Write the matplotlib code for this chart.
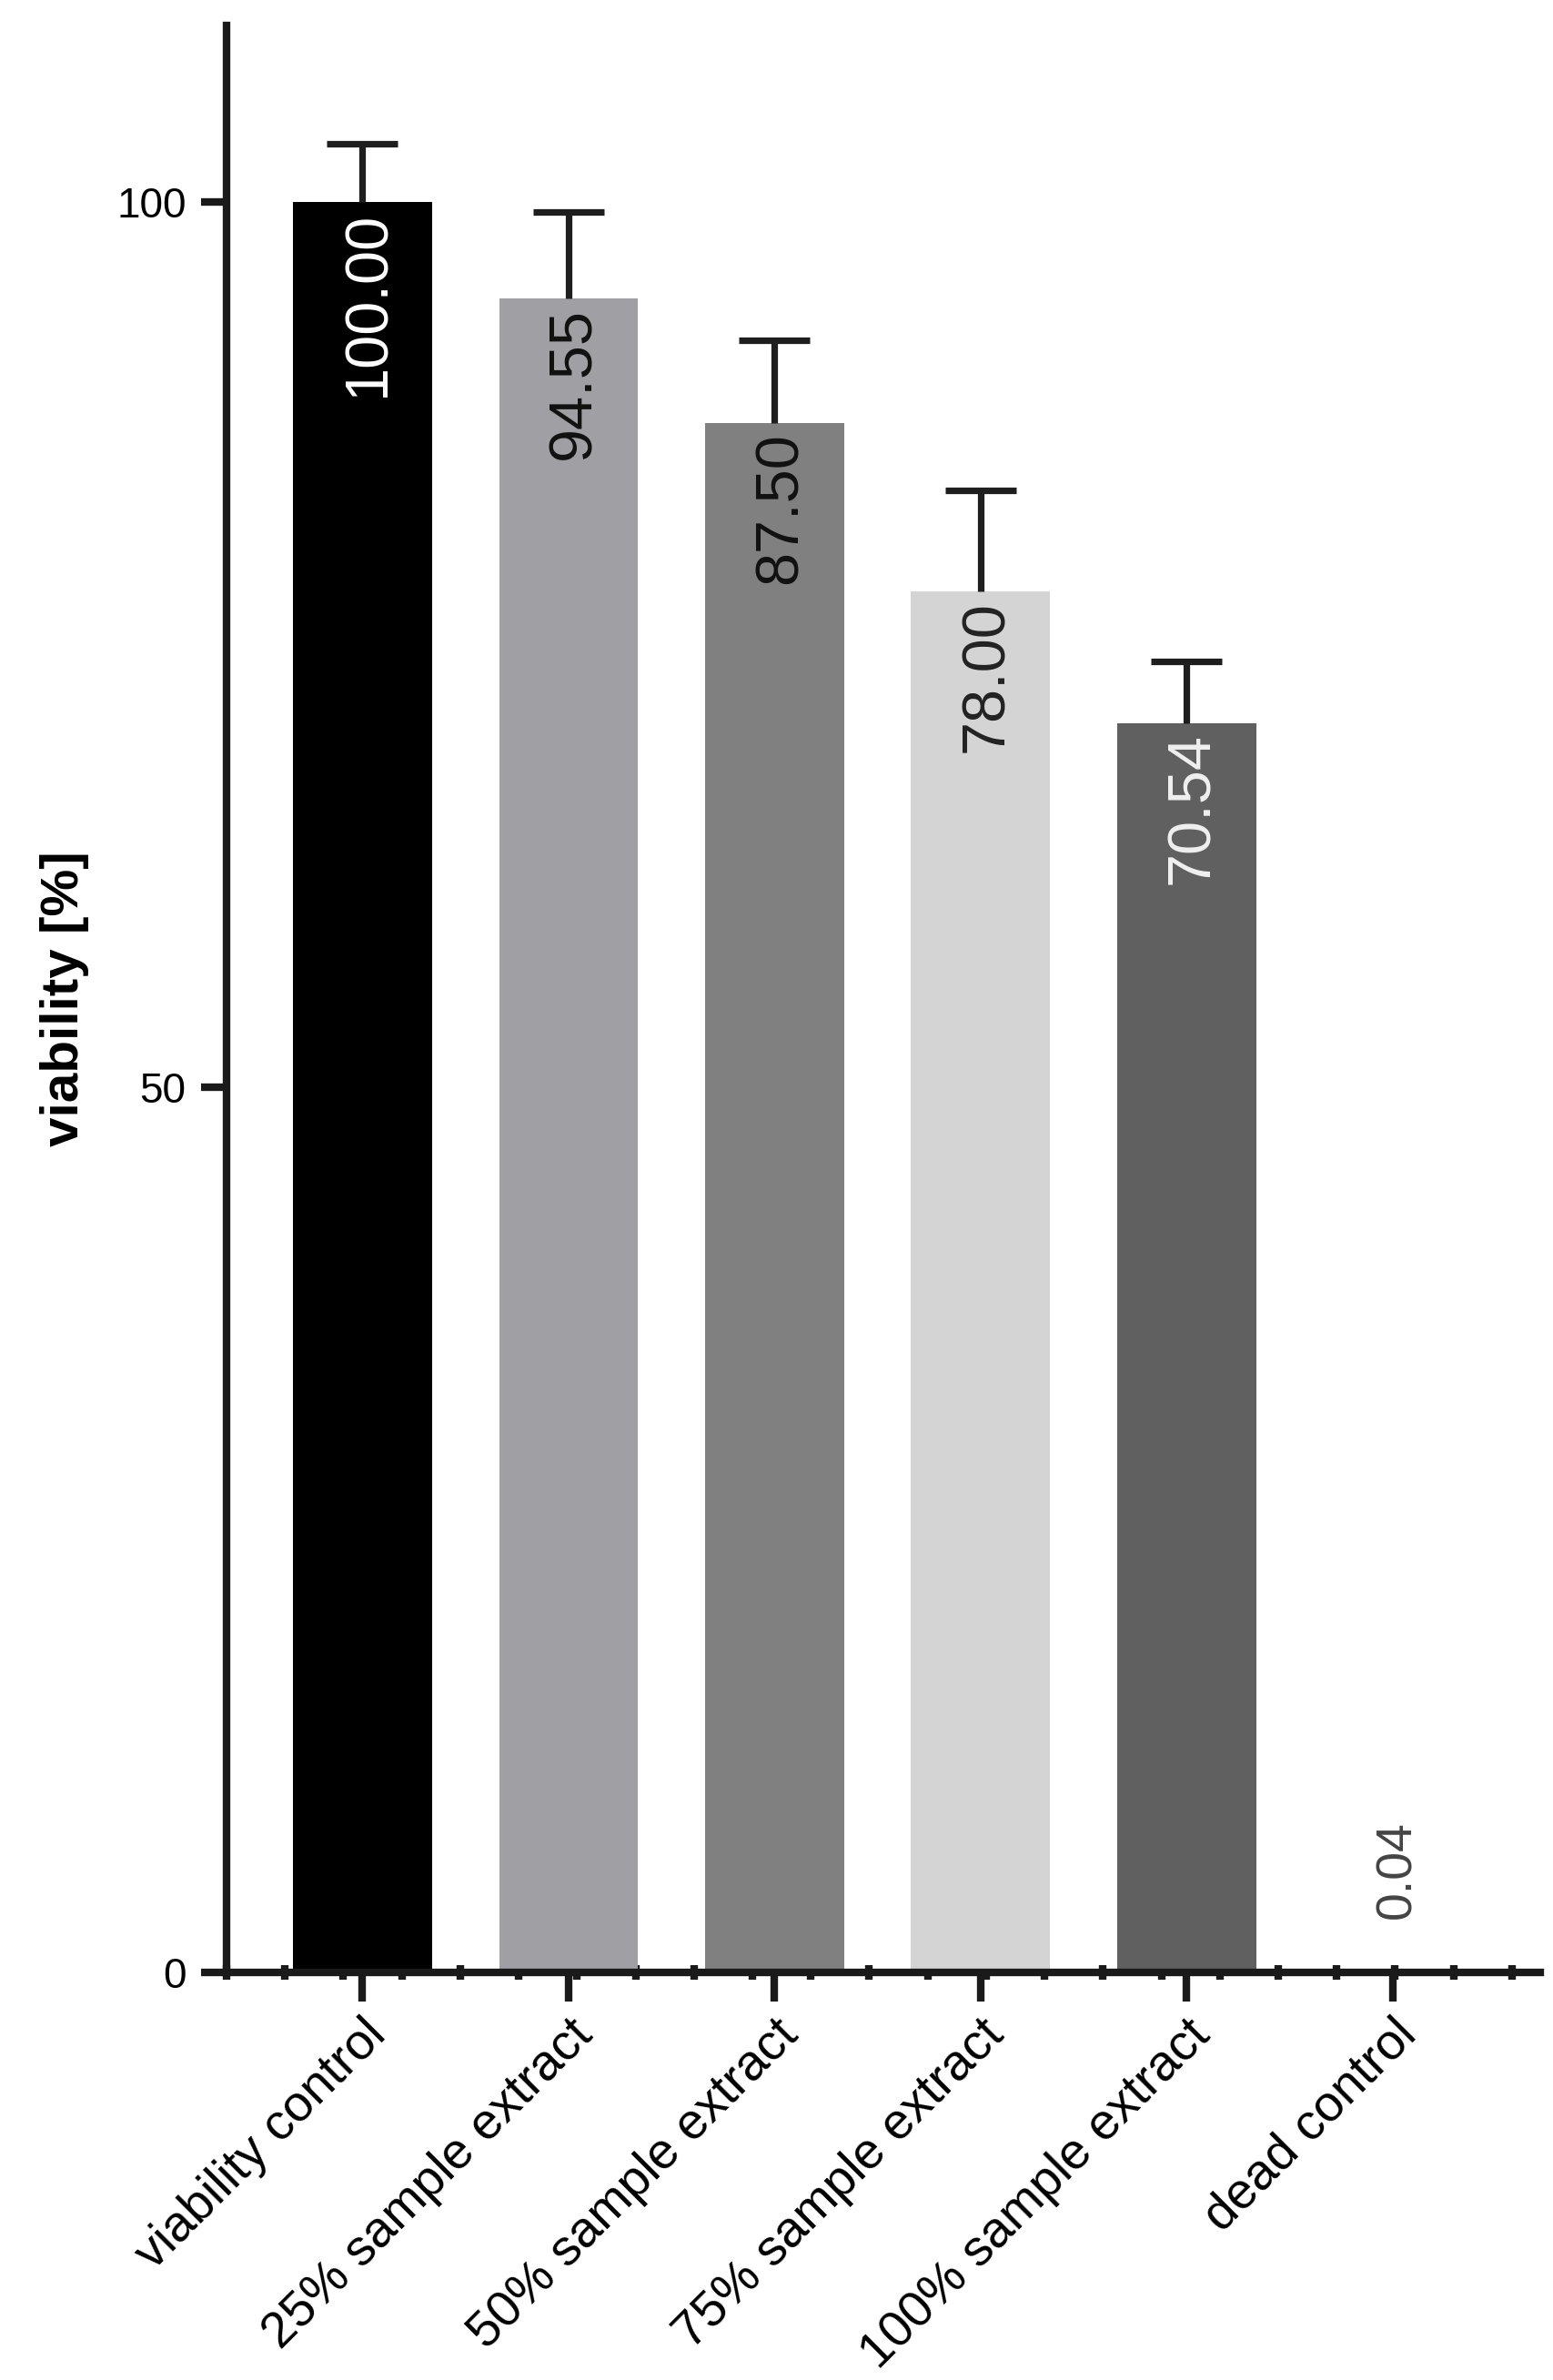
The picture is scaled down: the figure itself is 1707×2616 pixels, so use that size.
import numpy as np
import matplotlib
matplotlib.use('Agg')
matplotlib.rcParams['font.family'] = ['Liberation Sans', 'DejaVu Sans']
import matplotlib.pyplot as plt
from matplotlib.transforms import ScaledTranslation

# データ
categories = ['viability control', '25% sample extract', '50% sample extract',
              '75% sample extract', '100% sample extract', 'dead control']
values = [100.00, 94.55, 87.50, 78.00, 70.54, 0.04]
errors = [3.3, 4.9, 4.7, 5.7, 3.5, 0.0]
value_labels = ['100.00', '94.55', '87.50', '78.00', '70.54', '0.04']
bar_colors = ['#000000', '#a0a0a4', '#808080', '#d4d4d4', '#606060', '#ffffff']
text_colors = ['#ffffff', '#111111', '#111111', '#222222', '#f0f0f0', '#444444']
y_ticks = [0, 50, 100]


def main():
    fig = plt.figure(figsize=(8.54, 13.08), dpi=200)
    ax = fig.add_axes([0.1458, 0.1713, 0.8452, 0.8181])

    x = np.arange(len(categories))
    ax.bar(x, values, width=0.675, color=bar_colors, linewidth=0, zorder=2)

    # 上方向のみのエラーバー（縦線＋上端のキャップ）
    for xi, v, e in zip(x, values, errors):
        if e > 0:
            ax.vlines(xi, v, v + e, color='#1e1e1e', linewidth=2.6, zorder=3)
            ax.plot([xi], [v + e], marker='_', markersize=28, markeredgewidth=2.6,
                    color='#1e1e1e', zorder=3)

    # 値ラベル（下から上へ読む縦書き）
    for xi, v, lab, tc in zip(x, values, value_labels, text_colors):
        if v > 5:
            ax.annotate(lab, (xi, v), xytext=(2.5, -3.5), textcoords='offset points',
                        rotation=90, ha='center', va='top', fontsize=24, color=tc,
                        zorder=4)
        else:
            ax.annotate(lab, (xi, v), xytext=(2.0, 21), textcoords='offset points',
                        rotation=90, ha='center', va='bottom', fontsize=20, color=tc,
                        zorder=4)

    ax.set_xlim(-0.66, 5.715)
    ax.set_ylim(0, 110)

    for side in ['top', 'right']:
        ax.spines[side].set_visible(False)
    for side in ['left', 'bottom']:
        ax.spines[side].set_linewidth(3)
        ax.spines[side].set_color('#1a1a1a')

    ax.set_yticks(y_ticks)
    ax.set_yticklabels([str(t) for t in y_ticks])
    ax.tick_params(axis='y', length=10, width=3, color='#1a1a1a', labelsize=16.5, pad=6)

    ax.set_xticks(x)
    ax.set_xticklabels(categories, rotation=45, ha='right', va='center',
                       rotation_mode='anchor', fontsize=20)
    ax.tick_params(axis='x', which='major', length=11.5, width=3, color='#1a1a1a', pad=9)
    # ラベルを少し右へずらす
    shift = ScaledTranslation(0.09, -0.02, fig.dpi_scale_trans)
    for label in ax.get_xticklabels():
        label.set_transform(label.get_transform() + shift)
    ax.set_xticks(np.arange(-0.66, 5.715, 0.2836), minor=True)
    ax.tick_params(axis='x', which='minor', direction='inout', length=6, width=3,
                   color='#1a1a1a')

    ax.set_ylabel('viability [%]', fontsize=21, fontweight='bold', labelpad=11)

    fig.savefig('out.png', dpi=200)


if __name__ == '__main__':
    main()
